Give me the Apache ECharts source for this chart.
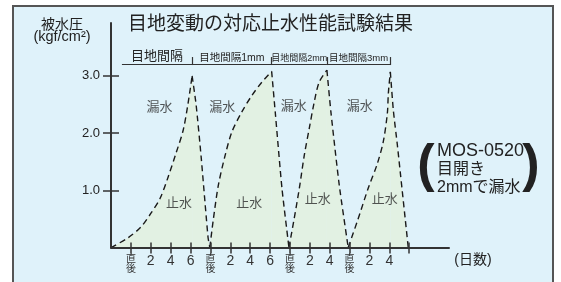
<!DOCTYPE html>
<html>
<head>
<meta charset="utf-8">
<script src="https://cdn.jsdelivr.net/npm/echarts@6/dist/echarts.min.js"></script>
<style>
  html, body { margin: 0; padding: 0; background: #fff; }
  #chart { width: 561px; height: 282px; }
</style>
</head>
<body>
<div id="chart"></div>
<script>
// x unit = one tick step (2 days), y = water pressure kgf/cm2
const tickDays = [1, 2, 3, 4, 5, 6, 7, 8, 9, 10, 11, 12, 13, 14, 15];
const tickLabels = ['直後', '2', '4', '6', '直後', '2', '4', '6', '直後', '2', '4', '直後', '2', '4', ''];
const pressureTicks = [1, 2, 3];

// each test: rising part (still sealed) then drop back (leak)
const rise1 = [[0, 0], [0.86, 0.17], [1.51, 0.36], [2.01, 0.6], [2.47, 0.86], [2.87, 1.23], [3.27, 1.65], [3.63, 2.05], [3.88, 2.53], [4.08, 3.0]];
const fall1 = [[4.08, 3.0], [4.28, 2.5], [4.53, 1.6], [4.88, 0.18], [4.97, 0]];
const rise2 = [[4.97, 0], [5.15, 0.5], [5.4, 1.09], [5.74, 1.61], [6.08, 2.02], [6.58, 2.37], [7.09, 2.66], [7.59, 2.89], [8.08, 3.08]];
const fall2 = [[8.08, 3.08], [8.26, 2.37], [8.6, 1.03], [8.95, 0]];
const rise3 = [[8.95, 0], [9.21, 0.5], [9.47, 1.03], [9.72, 1.61], [9.97, 2.08], [10.22, 2.54], [10.47, 2.89], [10.86, 3.1]];
const fall3 = [[10.86, 3.1], [11.06, 2.37], [11.48, 1.09], [11.93, 0]];
const rise4 = [[11.93, 0], [12.39, 0.46], [12.94, 1.04], [13.39, 1.46], [13.7, 1.86], [13.9, 2.35], [13.95, 2.7], [14.05, 3.07]];
const fall4 = [[14.05, 3.07], [14.2, 2.4], [14.4, 1.8], [14.95, 0]];

const gapLabels = ['目地間隔', '目地間隔1mm', '目地間隔2mm', '目地間隔3mm'];
const bracketStart = 0.55;
const bracketLevel = 3.21;

const leakPos = [[2.44, 2.45], [5.59, 2.45], [9.19, 2.47], [12.51, 2.47]];
const sealPos = [[3.42, 0.77], [6.95, 0.77], [10.4, 0.84], [13.77, 0.84]];

const cjk = '"Liberation Sans", "Noto Sans CJK JP", sans-serif';
const ink = '#222';
const fill = '#e2f1e3';

const rises = [rise1, rise2, rise3, rise4];
const falls = [fall1, fall2, fall3, fall4];
const peaks = rises.map(r => r[r.length - 1][0]);
const bounds = [bracketStart].concat(peaks);
const gapFont = [13, 10.5, 9, 9.5];

const bracketLines = [];
gapLabels.forEach((name, i) => {
  bracketLines.push([
    { coord: [bounds[i], bracketLevel], name: name, label: { fontSize: gapFont[i] } },
    { coord: [bounds[i + 1], bracketLevel] }
  ]);
});
peaks.forEach(p => {
  bracketLines.push([
    { coord: [p, 3.19], label: { show: false } },
    { coord: [p, 3.33] }
  ]);
});

function hump(data, smooth) {
  return {
    type: 'line', data: data, smooth: smooth, symbol: 'none', z: 3,
    lineStyle: { color: '#1a1a1a', width: 1.4, type: [6, 4] },
    areaStyle: { color: fill, opacity: 1 }
  };
}

const series = [];
rises.forEach((r, i) => {
  series.push(hump(r, 0.3));
  series.push(hump(falls[i], 0.2));
});
series[0].markLine = {
  silent: true, animation: false, symbol: ['none', 'none'],
  lineStyle: { color: '#333', width: 1.2, type: 'solid' },
  label: { show: true, position: 'middle', formatter: '{b}', distance: 1, color: ink, fontFamily: cjk },
  data: bracketLines
};
function textMarks(pos, text) {
  return {
    type: 'scatter', data: pos, symbolSize: 0, z: 5, silent: true,
    label: { show: true, position: 'inside', formatter: text, fontSize: 13, color: '#2a2a2a', fontFamily: cjk }
  };
}
series.push(textMarks(leakPos, '漏水'));
series.push(textMarks(sealPos, '止水'));

function note(x, y, text, font, align) {
  return {
    type: 'text', z: 10, x: x, y: y,
    style: { text: text, font: font, fill: ink, align: align || 'center', verticalAlign: 'middle' }
  };
}

const axisInk = { color: '#333', width: 1.5 };
const chart = echarts.init(document.getElementById('chart'));
chart.setOption({
  backgroundColor: '#fff',
  animation: false,
  title: {
    text: '目地変動の対応止水性能試験結果', left: 128, top: 15, padding: 0,
    textStyle: { fontSize: 19, fontWeight: 'normal', color: ink, fontFamily: cjk }
  },
  grid: { left: 111, right: 112, top: 23, bottom: 34.5 },
  xAxis: [{
    type: 'value', min: 0, max: 17, interval: 1, position: 'bottom', z: 10,
    axisLine: { onZero: false, lineStyle: { color: '#333', width: 2 } },
    axisTick: { length: 6, lineStyle: axisInk, customValues: tickDays },
    axisLabel: {
      customValues: tickDays.slice(0, 14), margin: 7, color: '#333',
      formatter: v => {
        const t = tickLabels[Math.round(v) - 1];
        return t === '直後' ? '{k|直}\n{k|後}' : '{n|' + t + '}';
      },
      rich: {
        k: { fontSize: 10, lineHeight: 10, fontFamily: cjk, color: '#333' },
        n: { fontSize: 14, lineHeight: 14, fontFamily: '"Liberation Sans", sans-serif', color: '#333' }
      }
    },
    splitLine: { show: false }
  }, {
    type: 'value', min: 0, max: 17, position: 'bottom', z: 10,
    axisLine: { show: false, onZero: false },
    axisTick: { inside: true, length: 5, lineStyle: axisInk, customValues: tickDays },
    axisLabel: { show: false }, splitLine: { show: false }
  }],
  yAxis: [{
    type: 'value', min: 0, max: 3.925, interval: 1, position: 'left', z: 10,
    axisLine: { show: true, onZero: false, lineStyle: { color: '#333', width: 2 } },
    axisTick: { show: true, length: 8, lineStyle: axisInk, customValues: pressureTicks },
    axisLabel: {
      customValues: pressureTicks, margin: 11, fontSize: 13, color: ink,
      fontFamily: '"Liberation Sans Narrow", "Liberation Sans", sans-serif',
      formatter: v => v.toFixed(1)
    },
    splitLine: { show: false }
  }, {
    type: 'value', min: 0, max: 3.925, position: 'left', z: 10,
    axisLine: { show: false, onZero: false },
    axisTick: { show: true, inside: true, length: 8, lineStyle: axisInk, customValues: pressureTicks },
    axisLabel: { show: false }, splitLine: { show: false }
  }],
  graphic: [
    { type: 'rect', z: -10, shape: { x: 13, y: 6, width: 540, height: 290 },
      style: { fill: '#dff2fa', stroke: '#555', lineWidth: 2 } },
    note(62, 25, '被水圧', '14px ' + cjk),
    note(62, 37, '(kgf/cm²)', '14.5px ' + cjk),
    note(473, 260, '(日数)', '14px ' + cjk),
    {
      type: 'text', z: 10, x: 437, y: 169,
      style: {
        text: '{a|MOS-0520}\n{b|目開き}\n{b|2mmで漏水}', verticalAlign: 'middle', align: 'left',
        rich: {
          a: { fontSize: 18, lineHeight: 19, fontFamily: cjk, fill: ink },
          b: { fontSize: 16, lineHeight: 18, fontFamily: cjk, fill: ink }
        }
      }
    },
    note(426, 167, '(', 'bold 52px "Liberation Sans", sans-serif'),
    note(531, 167, ')', 'bold 52px "Liberation Sans", sans-serif')
  ],
  series: series
});
</script>
</body>
</html>
